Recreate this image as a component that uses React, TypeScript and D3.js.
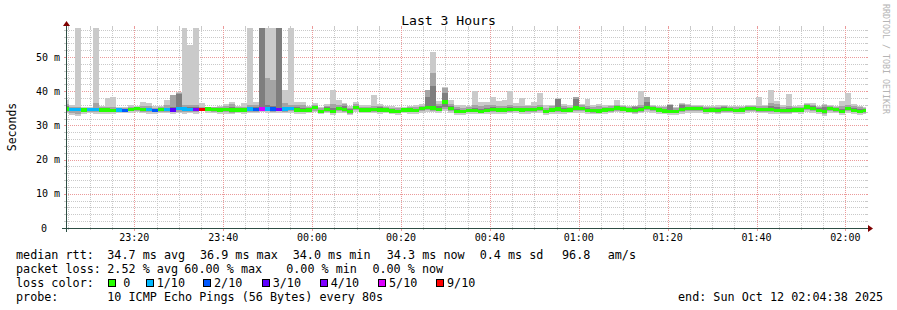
import React from 'react';
import * as d3 from 'd3';

// ---------- data ----------
const endTime = Date.UTC(2025, 9, 12, 2, 4, 38);
const spanSeconds = 3 * 3600;
const stepSeconds = 80;
const firstSampleOffset = -40; // seconds relative to graph start

const median = [
  34.8, 34.7, 34.6, 34.5, 34.6, 34.6, 34.5, 34.5, 34.4, 34.5,
  34.4, 34.6, 34.9, 34.7, 34.6, 34.4, 34.7, 34.7, 34.5, 35.0,
  34.8, 34.7, 34.7, 34.6, 34.8, 34.7, 34.5, 34.6, 34.5, 34.5,
  34.5, 34.8, 34.7, 34.8, 34.8, 34.8, 34.7, 34.8, 34.9, 34.5,
  34.4, 34.5, 35.2, 34.1, 34.7, 34.0, 35.0, 34.6, 34.0, 35.3,
  34.5, 34.5, 34.7, 34.5, 34.5, 34.2, 34.0, 34.5, 34.5, 34.3,
  34.9, 35.3, 35.1, 34.7, 36.9, 34.9, 34.1, 34.0, 34.3, 34.4,
  34.1, 34.3, 34.6, 34.5, 34.5, 34.7, 34.7, 34.5, 34.6, 34.7,
  34.9, 34.0, 34.5, 34.8, 34.4, 34.5, 35.1, 35.0, 34.3, 34.3,
  34.2, 34.5, 34.7, 35.1, 34.8, 34.5, 34.3, 34.7, 35.2, 34.9,
  34.5, 34.2, 34.0, 34.0, 34.6, 34.9, 34.9, 34.9, 34.4, 34.5,
  34.3, 34.6, 34.7, 34.3, 34.5, 34.9, 34.9, 34.7, 34.7, 34.7,
  34.4, 34.3, 34.3, 34.5, 34.5, 35.4, 34.9, 34.3, 34.0, 34.9,
  34.6, 34.0, 34.9, 34.4, 34.0, 34.3,
];

const lossTenths = [
  0, 1, 1, 0, 1, 1, 0, 0, 0, 1,
  2, 0, 0, 0, 1, 2, 0, 1, 3, 1,
  1, 1, 4, 6, 0, 0, 0, 0, 0, 0,
  0, 1, 2, 5, 1, 2, 4, 1, 1, 0,
  0, 0, 0, 0, 0, 0, 0, 0, 0, 0,
  0, 0, 0, 0, 0, 0, 0, 0, 0, 0,
  0, 0, 0, 0, 0, 0, 0, 0, 0, 0,
  0, 0, 0, 0, 0, 0, 0, 0, 0, 0,
  0, 0, 0, 0, 0, 0, 0, 0, 0, 0,
  0, 0, 0, 0, 0, 0, 0, 0, 0, 0,
  0, 0, 0, 0, 0, 0, 0, 0, 0, 0,
  0, 0, 0, 0, 0, 0, 0, 0, 0, 0,
  0, 0, 0, 0, 0, 0, 0, 0, 0, 0,
  0, 0, 0, 0, 0, 0,
];

// sorted pings: lowest, 2nd, 3rd ... 8th, 9th, highest (60 = off the top)
const pingMin = [
  33.6, 33.0, 32.8, 33.4, 33.5, 33.3, 33.4, 33.2, 33.3, 33.5,
  33.6, 33.7, 33.8, 33.5, 33.4, 33.3, 33.6, 33.5, 33.3, 33.6,
  33.4, 33.5, 33.4, 34.2, 33.6, 33.5, 33.4, 33.3, 33.2, 33.6,
  33.4, 33.5, 33.5, 33.8, 33.6, 33.5, 33.7, 33.5, 33.6, 33.3,
  33.4, 33.6, 33.9, 33.2, 33.5, 33.0, 33.7, 33.5, 33.0, 34.0,
  33.5, 33.6, 33.6, 33.4, 33.5, 33.3, 33.1, 33.5, 33.4, 33.4,
  33.7, 34.0, 33.8, 33.6, 34.2, 33.7, 33.1, 33.0, 33.3, 33.3,
  33.2, 33.3, 33.4, 33.3, 33.4, 33.5, 33.6, 33.4, 33.3, 33.5,
  33.6, 33.0, 33.4, 33.4, 33.3, 33.5, 33.7, 33.7, 33.3, 33.3,
  33.2, 33.4, 33.6, 33.8, 33.6, 33.5, 33.2, 33.5, 33.8, 33.7,
  33.4, 33.3, 33.1, 33.1, 33.4, 33.7, 33.7, 33.6, 33.3, 33.5,
  33.2, 33.5, 33.6, 33.3, 33.4, 33.7, 33.8, 33.5, 33.6, 33.4,
  33.3, 33.3, 33.2, 33.5, 33.4, 34.0, 33.6, 33.3, 32.9, 33.6,
  33.5, 33.0, 33.6, 33.3, 33.1, 33.2,
];
const ping2 = [
  34.0, 33.6, 33.4, 33.9, 34.0, 33.8, 33.9, 33.8, 33.8, 33.9,
  34.0, 34.1, 34.2, 34.0, 33.9, 33.8, 34.0, 34.0, 33.8, 34.0,
  33.9, 34.0, 33.9, 34.4, 34.1, 34.0, 33.9, 33.8, 33.7, 34.0,
  33.9, 34.0, 34.0, 34.2, 34.1, 34.0, 34.1, 34.0, 34.1, 33.9,
  33.9, 34.0, 34.3, 33.6, 34.0, 33.5, 34.2, 33.9, 33.4, 34.5,
  33.9, 34.0, 34.0, 33.9, 34.0, 33.7, 33.5, 33.9, 33.9, 33.8,
  34.2, 34.5, 34.3, 34.1, 34.8, 34.2, 33.6, 33.5, 33.8, 33.8,
  33.7, 33.8, 33.9, 33.8, 33.9, 34.0, 34.1, 33.9, 33.9, 34.0,
  34.1, 33.5, 33.9, 34.0, 33.8, 33.9, 34.3, 34.2, 33.8, 33.7,
  33.7, 33.9, 34.0, 34.3, 34.1, 33.9, 33.7, 34.0, 34.4, 34.2,
  33.9, 33.7, 33.5, 33.5, 33.9, 34.2, 34.2, 34.1, 33.8, 33.9,
  33.7, 34.0, 34.0, 33.8, 33.9, 34.2, 34.2, 34.0, 34.0, 33.9,
  33.8, 33.7, 33.7, 33.9, 33.9, 34.5, 34.1, 33.8, 33.4, 34.1,
  33.9, 33.5, 34.1, 33.8, 33.5, 33.7,
];
const ping3 = [
  34.3, 34.2, 34.1, 34.2, 34.3, 34.2, 34.2, 34.1, 34.1, 34.2,
  34.2, 34.3, 34.5, 34.4, 34.3, 34.1, 34.3, 34.3, 34.1, 34.4,
  34.3, 34.3, 34.3, 34.5, 34.4, 34.3, 34.2, 34.2, 34.1, 34.2,
  34.2, 34.4, 34.3, 34.4, 34.4, 34.4, 34.3, 34.4, 34.5, 34.2,
  34.1, 34.2, 34.7, 33.8, 34.3, 33.8, 34.6, 34.2, 33.7, 34.9,
  34.2, 34.2, 34.3, 34.2, 34.2, 33.9, 33.7, 34.2, 34.2, 34.0,
  34.5, 34.9, 34.7, 34.4, 35.4, 34.6, 33.9, 33.7, 34.0, 34.1,
  33.9, 34.0, 34.2, 34.2, 34.2, 34.3, 34.4, 34.2, 34.2, 34.4,
  34.5, 33.7, 34.2, 34.4, 34.1, 34.2, 34.7, 34.6, 34.0, 33.9,
  33.9, 34.2, 34.3, 34.7, 34.4, 34.2, 33.9, 34.3, 34.8, 34.5,
  34.2, 33.9, 33.7, 33.7, 34.2, 34.5, 34.5, 34.5, 34.1, 34.2,
  34.0, 34.3, 34.3, 34.0, 34.2, 34.5, 34.5, 34.3, 34.3, 34.3,
  34.1, 34.0, 34.0, 34.2, 34.2, 34.9, 34.5, 34.0, 33.6, 34.5,
  34.2, 33.7, 34.5, 34.0, 33.7, 33.9,
];
const ping8 = [
  35.6, 35.1, 35.0, 34.9, 34.9, 35.1, 35.0, 34.9, 34.9, 35.0,
  34.8, 35.0, 35.2, 35.2, 35.1, 34.9, 35.1, 35.2, 35.5, 39.2,
  35.4, 35.3, 35.3, 34.9, 35.1, 35.0, 34.9, 35.1, 35.3, 35.0,
  35.0, 35.3, 35.3, 60.0, 36.0, 35.8, 60.0, 35.5, 35.5, 35.4,
  35.2, 35.0, 35.6, 34.6, 35.3, 35.2, 35.5, 35.6, 34.8, 35.8,
  35.0, 35.1, 35.2, 35.3, 35.0, 34.8, 34.6, 34.9, 35.0, 34.9,
  35.4, 38.4, 41.5, 35.6, 39.4, 35.6, 34.8, 34.6, 34.9, 35.2,
  34.9, 35.0, 35.3, 35.2, 35.1, 35.3, 35.2, 35.1, 35.2, 35.2,
  35.4, 34.6, 35.0, 37.6, 35.0, 35.0, 37.7, 35.5, 35.0, 34.9,
  34.9, 35.0, 35.2, 35.6, 35.3, 35.0, 35.3, 35.3, 37.0, 35.4,
  35.0, 34.9, 35.9, 34.6, 36.0, 35.5, 35.4, 35.4, 35.0, 35.0,
  35.0, 35.5, 35.2, 34.9, 35.0, 35.4, 35.4, 35.2, 35.2, 35.6,
  35.3, 34.9, 35.0, 35.0, 35.1, 36.1, 35.6, 35.0, 35.4, 35.4,
  35.1, 34.8, 35.5, 35.1, 34.8, 34.8,
];
const ping9 = [
  36.4, 35.5, 35.4, 35.2, 35.2, 36.5, 35.4, 35.4, 35.5, 35.2,
  35.1, 35.4, 35.4, 35.8, 35.7, 35.2, 35.4, 35.9, 38.8, 39.4,
  36.0, 36.0, 36.0, 35.3, 35.3, 35.3, 35.3, 35.6, 36.2, 35.3,
  35.5, 36.0, 36.0, 60.0, 43.8, 43.2, 60.0, 36.5, 36.1, 36.0,
  35.9, 35.3, 36.0, 35.0, 35.8, 36.2, 36.0, 36.2, 35.2, 36.3,
  35.5, 35.5, 35.7, 35.8, 35.3, 35.2, 35.0, 35.2, 35.3, 35.4,
  35.8, 40.3, 45.4, 36.3, 41.0, 36.3, 35.3, 35.2, 35.3, 36.0,
  35.6, 35.9, 35.9, 35.8, 35.7, 36.0, 35.8, 35.7, 35.7, 35.8,
  36.0, 35.2, 35.6, 37.8, 35.6, 35.4, 38.2, 35.9, 35.6, 35.4,
  35.6, 35.5, 35.6, 36.1, 35.6, 35.4, 35.6, 36.0, 38.2, 35.7,
  35.4, 35.4, 36.1, 35.0, 36.4, 35.9, 35.7, 35.8, 35.4, 35.3,
  35.5, 35.8, 35.5, 35.3, 35.4, 35.7, 35.8, 35.8, 35.6, 36.5,
  36.2, 35.4, 35.6, 35.3, 35.5, 36.4, 36.0, 35.4, 36.1, 35.7,
  35.5, 35.6, 36.0, 35.6, 35.3, 35.2,
];
const pingMax = [
  37.5, 35.9, 60.0, 35.5, 35.4, 60.0, 35.8, 37.9, 38.4, 35.4,
  35.3, 35.9, 35.6, 36.9, 36.5, 35.6, 35.8, 37.4, 39.0, 39.7,
  60.0, 53.5, 60.0, 36.5, 35.5, 35.4, 35.7, 36.2, 36.8, 35.6,
  36.6, 60.0, 36.9, 60.0, 60.0, 60.0, 60.0, 40.3, 60.0, 37.0,
  37.0, 35.8, 36.5, 35.4, 36.4, 40.4, 37.3, 36.7, 35.6, 36.9,
  35.9, 35.9, 39.0, 36.2, 35.6, 35.8, 35.3, 35.5, 35.6, 36.0,
  36.3, 40.5, 51.6, 37.2, 41.3, 37.3, 35.9, 35.9, 35.8, 40.0,
  36.8, 36.8, 38.4, 37.1, 37.4, 40.2, 36.6, 37.9, 36.0, 36.8,
  39.5, 35.9, 36.1, 37.9, 36.4, 35.9, 38.4, 36.2, 37.7, 36.0,
  36.4, 35.9, 35.9, 37.3, 35.9, 35.7, 35.8, 40.0, 38.4, 35.9,
  35.8, 35.8, 36.3, 35.4, 36.6, 36.4, 36.0, 36.1, 35.7, 35.6,
  35.9, 36.0, 35.8, 35.6, 35.8, 36.0, 36.1, 38.3, 35.9, 40.5,
  37.2, 35.9, 39.3, 35.7, 36.0, 36.6, 36.5, 35.8, 36.3, 36.0,
  35.8, 37.2, 39.5, 36.3, 35.7, 35.5,
];

const yMajorTicks = [0, 10, 20, 30, 40, 50];
const yMajorLabels = ['0', '10 m', '20 m', '30 m', '40 m', '50 m'];
const yMinorStep = 2;
const yTop = 58.5;

const lossLevels = [0, 1, 2, 3, 4, 5, 10];
const lossLabels = ['0', '1/10', '2/10', '3/10', '4/10', '5/10', '9/10'];
const lossColors = ['#26ff00', '#00b8ff', '#0059ff', '#5e00ff', '#7e00ff', '#dd00ff', '#ff0000'];

const titleText = 'Last 3 Hours';
const yAxisTitle = 'Seconds';
const watermark = 'RRDTOOL / TOBI OETIKER';
const rttRow = ['median rtt:', '34.7 ms avg', '36.9 ms max', '34.0 ms min', '34.3 ms now', '0.4 ms sd', '96.8', 'am/s'];
const lossRow = ['packet loss:', '2.52 % avg', '60.00 % max', '0.00 % min', '0.00 % now'];
const lossColorLabel = 'loss color:';
const probeRow = ['probe:', '10 ICMP Echo Pings (56 Bytes) every 80s'];
const endText = 'end: Sun Oct 12 02:04:38 2025';

// ---------- layout ----------
const W = 897, H = 310;
const X0 = 66, XSIZE = 800, Y0 = 228, YSIZE = 200;
const MONO = '"DejaVu Sans Mono", "Liberation Mono", monospace';
const rttX = [16, 107.3, 200, 292.7, 386.8, 479.7, 562, 607.7];
const lossX = [16, 107.3, 184.3, 286.2, 372.4];
const boxX = [108.3, 145.7, 203, 261.7, 319.8, 378, 436];
const probeX = [16, 107.3];
const rowBase = [258.7, 272.7, 286.7, 300.7];
const GRID = '#c9c9c9';
const MGRID = '#eb9a9a';
const SMOKE = ['#cacaca', '#a4a4a4', '#7e7e7e'];

function lossColor(l: number) {
  for (let k = 0; k < lossLevels.length; k++) if (l <= lossLevels[k]) return lossColors[k];
  return lossColors[lossColors.length - 1];
}

export default function App() {
  const start = endTime - spanSeconds * 1000;
  const x = d3.scaleUtc().domain([new Date(start), new Date(endTime)]).range([X0, X0 + XSIZE]);
  const y = d3.scaleLinear().domain([0, yTop]).range([Y0, Y0 - YSIZE]);
  const fmt = d3.utcFormat('%H:%M');

  const majorX = x.ticks(d3.utcMinute.every(20) as any);
  const minorX = x.ticks(d3.utcMinute.every(5) as any).filter((t: Date) => t.getUTCMinutes() % 20 !== 0);
  const minorY = d3.range(yMinorStep, yTop, yMinorStep).filter(v => v % 10 !== 0);

  const top = Y0 - YSIZE;
  const right = X0 + XSIZE;

  const cols = median.map((m, i) => {
    const t0 = start + (firstSampleOffset + i * stepSeconds) * 1000;
    const xa = Math.max(X0, Math.round(x(new Date(t0))));
    const xb = Math.min(right, Math.round(x(new Date(t0 + stepSeconds * 1000))));
    return { i, m, xa, xb };
  });
  const bands: [number[], number[]][] = [[pingMin, pingMax], [ping2, ping9], [ping3, ping8]];

  return (
    <svg width={W} height={H} viewBox={`0 0 ${W} ${H}`} style={{ display: 'block', background: '#fff' }}
      fontFamily={MONO}>
      <style>{`body{margin:0}`}</style>
      <defs>
        <clipPath id="plot"><rect x={X0} y={top} width={XSIZE} height={YSIZE} /></clipPath>
      </defs>
      <rect x={0} y={0} width={W} height={H} fill="#fff" />

      {/* grid */}
      <g shapeRendering="crispEdges" strokeWidth={1}>
        {minorY.map(v => {
          const yy = Math.round(y(v)) + 0.5;
          return (
            <g key={'my' + v} stroke={GRID}>
              <line x1={X0 - 2} x2={X0 + 1} y1={yy} y2={yy} />
              <line x1={right - 1} x2={right + 2} y1={yy} y2={yy} />
              <line x1={X0 - 1} x2={right + 1} y1={yy} y2={yy} strokeDasharray="1,1" />
            </g>
          );
        })}
        {minorX.map((t: Date) => {
          const xx = Math.round(x(t)) + 0.5;
          return (
            <g key={'mx' + t.getTime()} stroke={GRID}>
              <line x1={xx} x2={xx} y1={top - 2} y2={top + 1} />
              <line x1={xx} x2={xx} y1={Y0 - 1} y2={Y0 + 2} />
              <line x1={xx} x2={xx} y1={top - 1} y2={Y0 + 1} strokeDasharray="1,1" />
            </g>
          );
        })}
        {yMajorTicks.filter(v => v > 0).map(v => {
          const yy = Math.round(y(v)) + 0.5;
          return (
            <g key={'My' + v} stroke={MGRID}>
              <line x1={X0 - 2} x2={X0} y1={yy} y2={yy} />
              <line x1={right} x2={right + 2} y1={yy} y2={yy} />
              <line x1={X0 - 2} x2={right + 2} y1={yy} y2={yy} strokeDasharray="1,1" />
            </g>
          );
        })}
        {majorX.map((t: Date) => {
          const xx = Math.round(x(t)) + 0.5;
          return (
            <g key={'Mx' + t.getTime()} stroke={MGRID}>
              <line x1={xx} x2={xx} y1={top - 2} y2={top} />
              <line x1={xx} x2={xx} y1={Y0} y2={Y0 + 3} />
              <line x1={xx} x2={xx} y1={top - 2} y2={Y0 + 3} strokeDasharray="1,1" />
            </g>
          );
        })}
      </g>

      {/* smoke + median */}
      <g clipPath="url(#plot)" shapeRendering="crispEdges">
        {bands.map(([lo, hi], b) => (
          <g key={'band' + b} fill={SMOKE[b]}>
            {cols.map(c => {
              const y1 = y(Math.min(hi[c.i], yTop + 2));
              const y2 = y(lo[c.i]);
              if (c.xb <= c.xa || y2 <= y1) return null;
              return <rect key={c.i} x={c.xa} y={y1} width={c.xb - c.xa} height={y2 - y1} />;
            })}
          </g>
        ))}
        {cols.map(c => {
          if (c.xb <= c.xa) return null;
          const yc = y(c.m);
          return <rect key={'med' + c.i} x={c.xa} y={yc - 1.7} width={c.xb - c.xa} height={3.4}
            fill={lossColor(lossTenths[c.i])} />;
        })}
      </g>

      {/* axes */}
      <g shapeRendering="crispEdges" stroke="#2c4d43" strokeWidth={1}>
        <line x1={X0 - 4} x2={right + 4} y1={Y0 + 0.5} y2={Y0 + 0.5} />
        <line x1={X0 + 0.5} x2={X0 + 0.5} y1={Y0 + 4} y2={top - 4} />
      </g>
      <polygon fill="#7f0000"
        points={`${right + 2},${Y0 - 3} ${right + 2},${Y0 + 4} ${right + 7},${Y0 + 0.5}`} />
      <polygon fill="#7f0000"
        points={`${X0 - 3},${top - 2} ${X0 + 4},${top - 2} ${X0 + 0.5},${top - 7}`} />

      {/* axis labels */}
      <g fontSize={10} fill="#000">
        {yMajorTicks.map((v, k) => (
          <text key={'yl' + v} x={v === 0 ? 47 : 60} y={y(v) + 3.6} textAnchor="end">{yMajorLabels[k]}</text>
        ))}
        {majorX.map((t: Date) => (
          <text key={'xl' + t.getTime()} x={x(t)} y={241.3} textAnchor="middle">{fmt(t)}</text>
        ))}
      </g>

      <text x={448.5} y={24.5} fontSize={13.1} textAnchor="middle" fill="#000">{titleText}</text>
      <text transform={`translate(15.5,127) rotate(-90)`} fontSize={11.5} textAnchor="middle" fill="#000">{yAxisTitle}</text>
      <text transform={`translate(883,59) rotate(90)`} fontSize={8.3} textAnchor="middle" fill="#b4b4b4">{watermark}</text>

      {/* legend */}
      <g fontSize={11.75} fill="#000" style={{ whiteSpace: 'pre' }}>
        {rttRow.map((s, k) => <text key={'r' + k} x={rttX[k]} y={rowBase[0]}>{s}</text>)}
        {lossRow.map((s, k) => <text key={'l' + k} x={lossX[k]} y={rowBase[1]}>{s}</text>)}
        <text x={16} y={rowBase[2]}>{lossColorLabel}</text>
        {lossLabels.map((s, k) => (
          <g key={'lc' + k}>
            <rect x={boxX[k] + 0.5} y={279.5} width={7} height={7} fill={lossColors[k]} stroke="#000" strokeWidth={1}
              shapeRendering="crispEdges" />
            <text x={k === 0 ? boxX[k] + 15 : boxX[k] + 11} y={rowBase[2]}>{s}</text>
          </g>
        ))}
        {probeRow.map((s, k) => <text key={'p' + k} x={probeX[k]} y={rowBase[3]}>{s}</text>)}
        <text x={678} y={rowBase[3]}>{endText}</text>
      </g>
    </svg>
  );
}
